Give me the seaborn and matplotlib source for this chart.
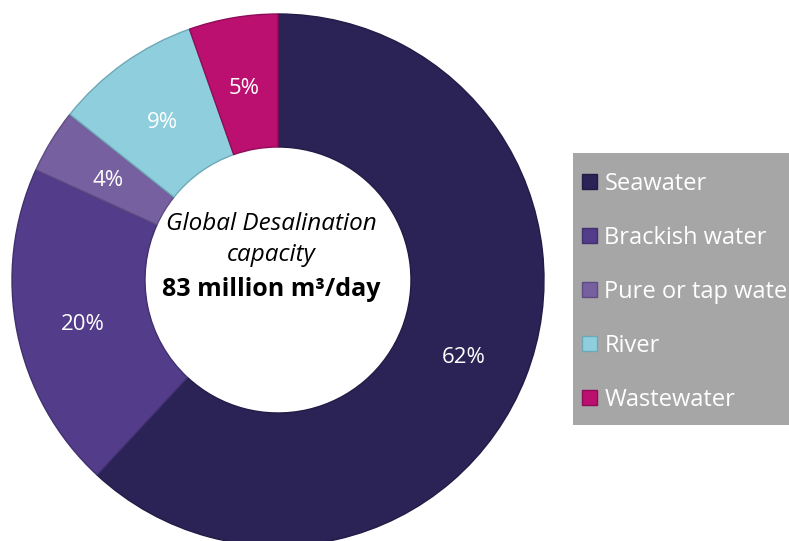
import matplotlib
matplotlib.use("Agg")
import matplotlib.pyplot as plt
import seaborn as sns

categories = ["Seawater", "Brackish water", "Pure or tap water", "River", "Wastewater"]
values = [61.9, 19.9, 3.9, 8.9, 5.4]
colors = ["#2B2355", "#533C8A", "#7660A0", "#8FCEDD", "#BB1070"]
edge_colors = ["#221B45", "#40306E", "#5E4C82", "#6FA8B6", "#8F0C58"]
center_line1 = "Global Desalination"
center_line2 = "capacity"
center_line3 = "83 million m³/day"

sns.set_theme(style="white")
plt.rcParams["font.family"] = ["Open Sans", "DejaVu Sans"]

W, H = 789, 541
fig = plt.figure(figsize=(W / 100, H / 100), dpi=100)
cx, cy, R = 278, 280, 266
ax = fig.add_axes([(cx - R) / W, (H - cy - R) / H, 2 * R / W, 2 * R / H])

wedges, texts, autotexts = ax.pie(
    values, colors=colors, startangle=90, counterclock=False, radius=1.0,
    autopct="%.0f%%", pctdistance=0.75,
    wedgeprops=dict(width=0.5, linewidth=1.0),
    textprops=dict(color="white", fontsize=16),
)
for w, ec in zip(wedges, edge_colors):
    w.set_edgecolor(ec)
for t in autotexts:
    x, y = t.get_position()
    t.set_position((x, y - 0.018))
ax.set_xlim(-1, 1)
ax.set_ylim(-1, 1)
ax.set_aspect("equal")
ax.axis("off")

tx = -0.026
ax.text(tx, 0.212, center_line1, ha="center", va="center", fontsize=17.5,
        style="italic", color="black")
ax.text(tx, 0.095, center_line2, ha="center", va="center", fontsize=17.5,
        style="italic", color="black")
ax.text(tx, -0.036, center_line3, ha="center", va="center", fontsize=18,
        fontweight="bold", color="black")

# legend background box (extends past right edge, as in the reference)
bg = plt.Rectangle((573 / W, 1 - 425 / H), (W - 573 + 40) / W, (425 - 153) / H,
                   transform=fig.transFigure, facecolor="#A6A6A6",
                   edgecolor="none", zorder=0)
fig.patches.append(bg)

handles = [plt.Rectangle((0, 0), 1, 1, facecolor=c, edgecolor=e, linewidth=1.0)
           for c, e in zip(colors, edge_colors)]
leg = fig.legend(handles, categories, loc="upper left",
                 bbox_to_anchor=(582 / W, 1 - 172 / H),
                 frameon=False, fontsize=17,
                 handlelength=0.62, handleheight=0.62, handletextpad=0.33,
                 labelspacing=1.27, borderpad=0, borderaxespad=0,
                 labelcolor="white")

fig.savefig("out.png", dpi=100)
